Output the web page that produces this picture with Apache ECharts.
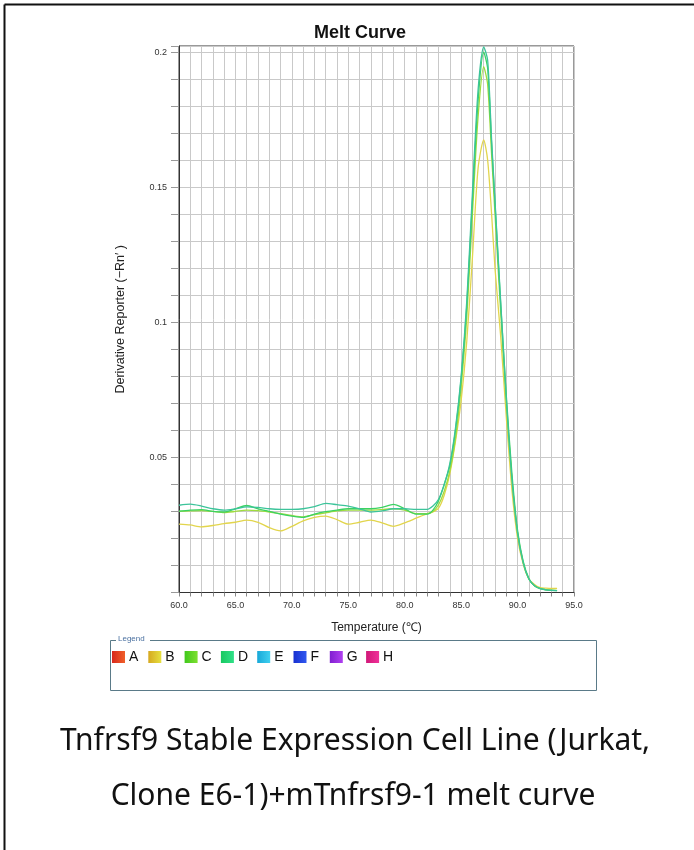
<!DOCTYPE html>
<html>
<head>
<meta charset="utf-8">
<script src="https://cdn.jsdelivr.net/npm/echarts@6/dist/echarts.min.js"></script>
<style>
html,body{margin:0;padding:0;background:#fff;}
#c{width:694px;height:850px;}
</style>
</head>
<body>
<div id="c"></div>
<script>
var temps = [60,61,62,63,64,65,66,67,68,69,70,71,72,73,74,75,76,77,78,79,80,81,82,82.5,83,83.5,84,84.5,85,85.5,86,86.5,87,87.35,87.7,88,88.5,89,89.5,90,90.5,91,91.5,92,92.5,93,93.5];

var wellE = [0.0323,0.0327,0.0320,0.0310,0.0305,0.0310,0.0317,0.0315,0.0310,0.0308,0.0308,0.0310,0.0318,0.0330,0.0325,0.0320,0.0310,0.0298,0.0302,0.0310,0.0310,0.0308,0.0308,0.0320,0.0345,0.0400,0.0478,0.0610,0.0800,0.1080,0.1480,0.1860,0.2020,0.1970,0.1675,0.1450,0.1080,0.0720,0.0420,0.0220,0.0110,0.0050,0.0025,0.0014,0.0010,0.0008,0.0007];

var wellD = [0.0301,0.0305,0.0307,0.0300,0.0298,0.0310,0.0322,0.0310,0.0300,0.0290,0.0283,0.0278,0.0290,0.0299,0.0305,0.0310,0.0310,0.0310,0.0315,0.0326,0.0310,0.0290,0.0290,0.0305,0.0340,0.0400,0.0470,0.0600,0.0790,0.1060,0.1450,0.1820,0.2000,0.1940,0.1660,0.1440,0.1070,0.0730,0.0440,0.0230,0.0115,0.0052,0.0025,0.0014,0.0010,0.0008,0.0007];

var wellC = [0.0300,0.0302,0.0303,0.0300,0.0296,0.0300,0.0305,0.0303,0.0298,0.0292,0.0285,0.0280,0.0288,0.0295,0.0302,0.0305,0.0305,0.0305,0.0307,0.0310,0.0305,0.0292,0.0292,0.0300,0.0325,0.0375,0.0450,0.0570,0.0760,0.1020,0.1400,0.1760,0.1947,0.1880,0.1620,0.1400,0.1040,0.0700,0.0420,0.0220,0.0110,0.0050,0.0025,0.0015,0.0011,0.0009,0.0008];

var wellB = [0.0253,0.0250,0.0243,0.0248,0.0255,0.0260,0.0268,0.0260,0.0240,0.0228,0.0245,0.0265,0.0278,0.0283,0.0270,0.0253,0.0260,0.0268,0.0258,0.0245,0.0258,0.0275,0.0292,0.0298,0.0312,0.0360,0.0440,0.0560,0.0710,0.0930,0.1240,0.1570,0.1675,0.1600,0.1400,0.1200,0.0950,0.0650,0.0380,0.0200,0.0105,0.0050,0.0030,0.0018,0.0016,0.0015,0.0015];

var xTickLabels = ['60.0','65.0','70.0','75.0','80.0','85.0','90.0','95.0'];
var yTickLabels = ['0.05','0.1','0.15','0.2'];
var legendNames = ['A','B','C','D','E','F','G','H'];
var legendColors = [['#d8281c','#f0602a'],['#d6a820','#e6e040'],['#40c81c','#7ee030'],['#18c860','#30e088'],['#18a8d8','#40d0f0'],['#1830d0','#3058f0'],['#8020d0','#b040f0'],['#d01878','#f03098']];

function pairs(vals){ return temps.map(function(t,i){ return [t, vals[i]]; }); }

var chart = echarts.init(document.getElementById('c'), null, {renderer:'canvas'});

var graphics = [
  {type:'line', shape:{x1:4.5,y1:4.5,x2:694,y2:4.5}, style:{stroke:'#111',lineWidth:2}},
  {type:'line', shape:{x1:4.5,y1:4.5,x2:4.5,y2:850}, style:{stroke:'#111',lineWidth:2}},
  {type:'rect', shape:{x:110.5,y:640.5,width:486,height:50}, style:{fill:'none',stroke:'#5a7a88',lineWidth:1}},
  {type:'rect', shape:{x:116,y:635,width:34,height:10}, style:{fill:'#fff'}},
  {type:'text', x:118, y:635, style:{text:'Legend', fill:'#4a70a0', font:'8px "Liberation Sans", Arial'}},
  {type:'text', x:355, y:741, style:{text:'Tnfrsf9 Stable Expression Cell Line (Jurkat,', fill:'#111', font:'30px "Noto Sans", sans-serif', textAlign:'center', textVerticalAlign:'middle'}},
  {type:'text', x:353, y:796, style:{text:'Clone E6-1)+mTnfrsf9-1 melt curve', fill:'#111', font:'30px "Noto Sans", sans-serif', textAlign:'center', textVerticalAlign:'middle'}}
];
legendNames.forEach(function(n,i){
  var x = 112 + i*36.3;
  graphics.push({type:'rect', shape:{x:x,y:651,width:13,height:12}, style:{fill:new echarts.graphic.LinearGradient(0,0,1,0,[{offset:0,color:legendColors[i][0]},{offset:1,color:legendColors[i][1]}])}});
  graphics.push({type:'text', x:x+17, y:650, style:{text:n, fill:'#111', font:'14px "Liberation Sans", Arial'}});
});

var option = {
  backgroundColor:'#fff',
  animation:false,
  title:{text:'Melt Curve', left:355, top:19, textAlign:'center', textStyle:{fontFamily:'"Liberation Sans", Arial', fontWeight:'bold', fontSize:18, color:'#111'}},
  grid:{left:179, right:120, top:46, bottom:257.5, show:true, borderColor:'#333', borderWidth:1, backgroundColor:'transparent'},
  xAxis:{
    type:'value', min:60, max:95, interval:1,
    name:'Temperature (\u2103)', nameLocation:'middle', nameGap:29,
    nameTextStyle:{fontFamily:'"Liberation Sans", Arial', fontSize:12, color:'#222'},
    axisLine:{show:true, lineStyle:{color:'#333'}},
    axisTick:{show:true, length:4, lineStyle:{color:'#888'}},
    splitLine:{show:true, lineStyle:{color:'#c9c9c9', width:1}},
    axisLabel:{margin:9, fontFamily:'"Liberation Sans", Arial', fontSize:9, color:'#333',
      formatter:function(v){ var s=v.toFixed(1); return xTickLabels.indexOf(s)>=0 ? s : ''; }}
  },
  yAxis:{
    type:'value', min:0, max:0.2023, interval:0.01,
    name:'Derivative Reporter (\u2212Rn\u2032 )', nameLocation:'middle', nameGap:52,
    nameTextStyle:{fontFamily:'"Liberation Sans", Arial', fontSize:12.5, color:'#222'},
    axisLine:{show:true, lineStyle:{color:'#333'}},
    axisTick:{show:true, length:8, lineStyle:{color:'#999'}},
    splitLine:{show:true, lineStyle:{color:'#c9c9c9', width:1}},
    axisLabel:{margin:12, fontFamily:'"Liberation Sans", Arial', fontSize:9, color:'#333',
      formatter:function(v){ var s=String(+v.toFixed(3)); return yTickLabels.indexOf(s)>=0 ? s : ''; }}
  },
  series:[
    {name:'B', type:'line', data:pairs(wellB), showSymbol:false, smooth:0.25, lineStyle:{color:'#e2d54c', width:1.3}, itemStyle:{color:'#e2d54c'}},
    {name:'C', type:'line', data:pairs(wellC), showSymbol:false, smooth:0.25, lineStyle:{color:'#9fdc3e', width:1.3}, itemStyle:{color:'#9fdc3e'}},
    {name:'D', type:'line', data:pairs(wellD), showSymbol:false, smooth:0.25, lineStyle:{color:'#3bd262', width:1.3}, itemStyle:{color:'#3bd262'}},
    {name:'E', type:'line', data:pairs(wellE), showSymbol:false, smooth:0.25, lineStyle:{color:'#3cc49a', width:1.3}, itemStyle:{color:'#3cc49a'}}
  ],
  graphic:graphics
};
chart.setOption(option);
</script>
</body>
</html>
